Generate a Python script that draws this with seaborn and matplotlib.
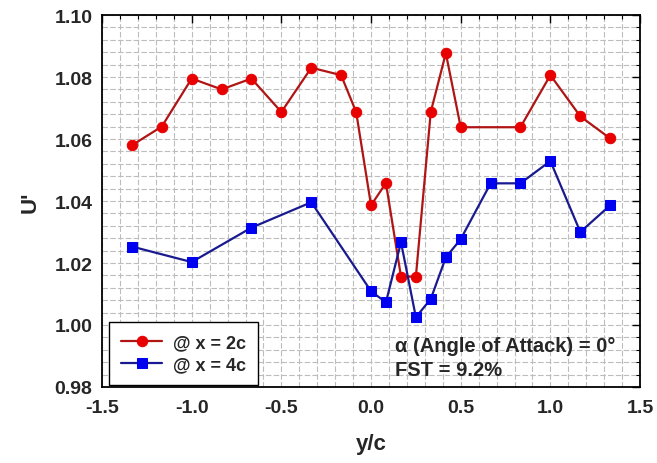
import numpy as np
import pandas as pd
import matplotlib
matplotlib.use("Agg")
import matplotlib.pyplot as plt
from matplotlib.ticker import MultipleLocator, FormatStrFormatter
import seaborn as sns

# data
y_c_2c = [-1.333, -1.167, -1.0, -0.833, -0.667, -0.5, -0.333, -0.167, -0.083, 0.0,
          0.083, 0.167, 0.25, 0.333, 0.417, 0.5, 0.833, 1.0, 1.167, 1.333]
u_2c = [1.058, 1.064, 1.0795, 1.076, 1.0795, 1.0687, 1.083, 1.0806, 1.0687, 1.0386,
        1.0458, 1.0156, 1.0156, 1.0687, 1.0877, 1.0638, 1.0638, 1.0806, 1.0673, 1.0602]

y_c_4c = [-1.333, -1.0, -0.667, -0.333, 0.0, 0.083, 0.167, 0.25, 0.333, 0.417, 0.5,
          0.667, 0.833, 1.0, 1.167, 1.333]
u_4c = [1.0253, 1.0203, 1.0314, 1.0396, 1.0109, 1.0073, 1.0267, 1.0025, 1.0084, 1.0218,
        1.0277, 1.0457, 1.0457, 1.0529, 1.0300, 1.0386]

labels = ["@ x = 2c", "@ x = 4c"]
x_ticks = [-1.5, -1.0, -0.5, 0.0, 0.5, 1.0, 1.5]
y_ticks = [0.98, 1.00, 1.02, 1.04, 1.06, 1.08, 1.10]

sns.set_theme(style="white")
plt.rcParams['font.family'] = ['Liberation Sans', 'DejaVu Sans']
plt.rcParams['font.weight'] = 'bold'

fig = plt.figure(figsize=(6.57, 4.64), dpi=100)
ax = fig.add_axes([0.1553, 0.1638, 0.8189, 0.8017])

df2 = pd.DataFrame({"y/c": y_c_2c, "U": u_2c})
df4 = pd.DataFrame({"y/c": y_c_4c, "U": u_4c})

sns.lineplot(data=df2, x="y/c", y="U", ax=ax, sort=False, color="#B01515",
             marker="o", markersize=7.5, markerfacecolor="#E80000",
             markeredgecolor="#E80000", linewidth=1.6, label=labels[0], zorder=4)
sns.lineplot(data=df4, x="y/c", y="U", ax=ax, sort=False, color="#1A1A90",
             marker="s", markersize=6.5, markerfacecolor="#0000F0",
             markeredgecolor="#0000F0", linewidth=1.6, label=labels[1], zorder=4)

ax.set_xlim(-1.5, 1.5)
ax.set_ylim(0.98, 1.10)
ax.set_xticks(x_ticks)
ax.set_yticks(y_ticks)
ax.xaxis.set_major_formatter(FormatStrFormatter('%.1f'))
ax.yaxis.set_major_formatter(FormatStrFormatter('%.2f'))
ax.xaxis.set_minor_locator(MultipleLocator(0.1))
ax.yaxis.set_minor_locator(MultipleLocator(0.004))

ax.grid(True, which='both', color='#bdbdbd', linestyle=(0, (5, 2)), linewidth=0.8, zorder=0)
ax.set_axisbelow(True)

ax.tick_params(which='major', direction='in', length=6, width=1.0, color='black',
               top=True, right=True, labelsize=14)
ax.tick_params(axis='y', which='major', pad=7)
ax.tick_params(axis='x', which='major', pad=9)
ax.tick_params(which='minor', direction='in', length=3, width=0.8, color='black',
               top=True, right=True)
for lab in ax.get_xticklabels() + ax.get_yticklabels():
    lab.set_fontweight('bold')

for sp in ax.spines.values():
    sp.set_color('black')
    sp.set_linewidth(1.3)

ax.set_xlabel("y/c", fontsize=16, fontweight='bold', labelpad=12)
ax.set_ylabel("U'", fontsize=16, fontweight='bold', labelpad=10)

leg = ax.legend(loc='lower left', bbox_to_anchor=(0.013, 0.005), borderaxespad=0,
                frameon=True, fancybox=False, handlelength=2.3, handletextpad=0.6,
                labelspacing=0.3, borderpad=0.65, prop={'weight': 'bold', 'size': 13})
leg.get_frame().set_edgecolor('black')
leg.get_frame().set_linewidth(1.0)
leg.get_frame().set_alpha(1)

ax.text(0.134, 0.9934, "\u03b1 (Angle of Attack) = 0\u00b0", fontsize=14.5, fontweight='bold',
        va='center', ha='left', zorder=5)
ax.text(0.134, 0.9857, "FST = 9.2%", fontsize=14.5, fontweight='bold',
        va='center', ha='left', zorder=5)

fig.savefig("out.png", dpi=100)
